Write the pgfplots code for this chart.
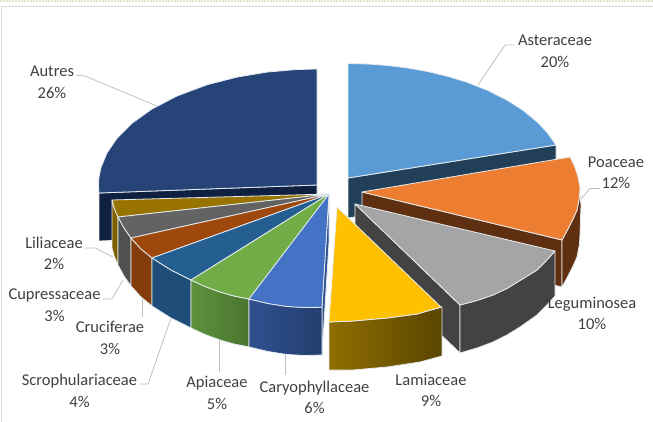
\documentclass[border=0pt]{standalone}
\usepackage{fontspec}
\setmainfont{Carlito}
\usepackage{pgfplots}
\pgfplotsset{compat=1.18}

% Slice colours: top faces and extruded sides
\definecolor{asterTop}{HTML}{5B9BD5}\definecolor{asterSide}{HTML}{223F59}
\definecolor{poaTop}{HTML}{ED7D31}\definecolor{poaSide}{HTML}{5E2F10}
\definecolor{legTop}{HTML}{A5A5A5}\definecolor{legSide}{HTML}{434343}
\definecolor{lamTop}{HTML}{FFC000}\definecolor{lamL}{HTML}{8F6E00}\definecolor{lamR}{HTML}{5A4500}
\definecolor{caryTop}{HTML}{4472C4}\definecolor{caryL}{HTML}{2F5090}\definecolor{caryR}{HTML}{243F6E}
\definecolor{apiTop}{HTML}{70AD47}\definecolor{apiL}{HTML}{5E923C}\definecolor{apiR}{HTML}{4A7530}
\definecolor{scrTop}{HTML}{255E91}\definecolor{scrSide}{HTML}{1D4D78}
\definecolor{cruTop}{HTML}{9E480E}\definecolor{cruSide}{HTML}{843C0C}
\definecolor{cupTop}{HTML}{636363}\definecolor{cupSide}{HTML}{505050}
\definecolor{liliTop}{HTML}{997300}\definecolor{liliSide}{HTML}{7F6000}
\definecolor{autTop}{HTML}{264478}\definecolor{autSide}{HTML}{0F2040}
\definecolor{edge}{HTML}{E6ECF0}
\definecolor{leader}{HTML}{BFBFBF}
\definecolor{labeltext}{HTML}{404040}
\definecolor{frameline}{HTML}{DADADA}
\definecolor{dotline}{HTML}{DCE8CC}

\pgfplotsset{
  face/.style={fill=#1, draw=edge, line width=0.8pt, line join=round},
  gradface/.style 2 args={left color=#1, right color=#2, draw=edge, line width=0.8pt, line join=round},
  leaderline/.style={draw=leader, line width=0.8pt, line join=round},
}
\tikzset{slicelabel/.style={text=labeltext, align=center, inner sep=0pt,
  font=\fontsize{16.5}{21.5}\selectfont}}

\begin{document}
\begin{tikzpicture}
\begin{axis}[
  scale only axis, width=653pt, height=422pt,
  xmin=0, xmax=653, ymin=0, ymax=422, y dir=reverse,
  hide axis, clip=true,
]
% page frame
\addplot[draw=dotline, line width=2pt, dash pattern=on 1.5pt off 1.5pt] coordinates {(0,1) (653,1)};
\addplot[draw=frameline, line width=1pt] coordinates {(653,6.5) (1.5,6.5) (1.5,422)};

% leader lines behind the pie
\addplot[leaderline] coordinates {(514,45) (505,45) (478,85)};
\addplot[leaderline] coordinates {(600,188.5) (590,188.5) (580,200)};
\addplot[leaderline] coordinates {(76,75) (85,76) (157,106)};
\addplot[leaderline] coordinates {(85,248) (95,248) (113,257)};
\addplot[leaderline] coordinates {(103,299) (112,299) (123,280)};
\addplot[leaderline] coordinates {(142,285) (142,317)};
\addplot[leaderline] coordinates {(140,384) (148,384) (171,318)};
\addplot[leaderline] coordinates {(219,338) (219,372)};
\addplot[leaderline] coordinates {(285,352) (285,375)};

% Asteraceae 20%
\addplot[face=asterSide] coordinates {(348,178) (556,145) (556,185) (348,218)} --cycle;
\addplot[face=asterTop] coordinates {(348,178) (348,63.5) (368,64) (388,65.5) (408,68) (428,71.6)
  (448,76.4) (468,82.6) (488,90.5) (508,100.7) (523,110.3) (538,122.7) (548,133.6) (556,145)} --cycle;

% Autres 26%
\addplot[face=autSide] coordinates {(99,193) (317,185) (317,233) (99,241)} --cycle;
\addplot[face=autTop] coordinates {(317,185) (317,69) (297,69.5) (267,72.1) (237,77.1) (207,84.8)
  (177,96) (152,109) (132,123.3) (117,138.3) (107,153) (101,167.5) (99,177) (98.5,185) (99,193)} --cycle;

% Caryophyllaceae cut face
\addplot[face=caryL] coordinates {(329,194) (322,307) (322,355) (329,242)} --cycle;

% Left group: sides
\addplot[face=liliSide] coordinates {(112,200) (114.5,209) (118,217) (118,265) (114.5,257) (112,248)} --cycle;
\addplot[face=cupSide] coordinates {(118,217) (124,228) (131,238) (131,286) (124,276) (118,265)} --cycle;
\addplot[face=cruSide] coordinates {(131,238) (141,249) (152,258) (152,306) (141,297) (131,286)} --cycle;
\addplot[face=scrSide] coordinates {(152,258) (171,270) (191,280) (191,328) (171,318) (152,306)} --cycle;
\addplot[gradface={apiL}{apiR}] coordinates {(191,280) (205,286.5) (220,292) (234,296) (249,299)
  (249,347) (234,344) (220,340) (205,334.5) (191,328)} --cycle;
\addplot[gradface={caryL}{caryR}] coordinates {(249,299) (268,303.5) (287,306.5) (305,307.5) (322,307.3)
  (322,355) (305,355.5) (287,354.5) (268,351.5) (249,347)} --cycle;

% Left group: top faces
\addplot[face=liliTop] coordinates {(329,194) (112,200) (114.5,209) (118,217)} --cycle;
\addplot[face=cupTop] coordinates {(329,194) (118,217) (124,228) (131,238)} --cycle;
\addplot[face=cruTop] coordinates {(329,194) (131,238) (141,249) (152,258)} --cycle;
\addplot[face=scrTop] coordinates {(329,194) (152,258) (171,270) (191,280)} --cycle;
\addplot[face=apiTop] coordinates {(329,194) (191,280) (205,286.5) (220,292) (234,296) (249,299)} --cycle;
\addplot[face=caryTop] coordinates {(329,194) (249,299) (268,303.5) (287,306.5) (305,307.5) (322,307.3)} --cycle;

% Poaceae 12%
\addplot[face=poaSide] coordinates {(362,192) (562,240) (562,287) (362,239)} --cycle;
\addplot[face=poaSide] coordinates {(562,240) (568,229) (573,219) (577,210) (580,195) (581,205)
  (580,234) (579.5,244) (577,257) (573,266) (568,276) (562,287)} --cycle;
\addplot[face=poaTop] coordinates {(362,192) (570,157) (574,165) (577.5,175) (580,187) (579.5,197)
  (577,210) (573,219) (568,229) (562,240)} --cycle;

% Leguminosea 10%
\addplot[face=legSide] coordinates {(355,204) (460,305) (460,353) (355,252)} --cycle;
\addplot[face=legSide] coordinates {(460,305) (477,300.5) (493,295) (507,288.5) (520,280.5) (537,270)
  (546,261) (555,251) (555,296) (546,306) (537,315) (520,327) (507,335) (493,342) (477,348) (460,353)} --cycle;
\addplot[face=legTop] coordinates {(355,204) (555,251) (546,261) (537,270) (520,280.5) (507,288.5)
  (493,295) (477,300.5) (460,305)} --cycle;

% Lamiaceae 9%
\addplot[gradface={lamL}{lamR}] coordinates {(329,322) (353,321) (387,318) (417,314) (442,307)
  (442,356) (420,362) (387,367) (353,370) (329,370)} --cycle;
\addplot[face=lamTop] coordinates {(337,207) (441,307) (417,314) (387,318) (353,321) (329,322)} --cycle;

% Slice labels
\node[slicelabel] at (axis cs:555,51.5) {Asteraceae\\20\%};
\node[slicelabel] at (axis cs:616,173) {Poaceae\\12\%};
\node[slicelabel] at (axis cs:592,313.5) {Leguminosea\\10\%};
\node[slicelabel] at (axis cs:431,390.5) {Lamiaceae\\9\%};
\node[slicelabel] at (axis cs:314.5,397.5) {Caryophyllaceae\\6\%};
\node[slicelabel] at (axis cs:217,393) {Apiaceae\\5\%};
\node[slicelabel] at (axis cs:79.5,391) {Scrophulariaceae\\4\%};
\node[slicelabel] at (axis cs:110,338) {Cruciferae\\3\%};
\node[slicelabel] at (axis cs:54.5,305) {Cupressaceae\\3\%};
\node[slicelabel] at (axis cs:54,253.5) {Liliaceae\\2\%};
\node[slicelabel] at (axis cs:52,82.5) {Autres\\26\%};
\end{axis}
\end{tikzpicture}
\end{document}
